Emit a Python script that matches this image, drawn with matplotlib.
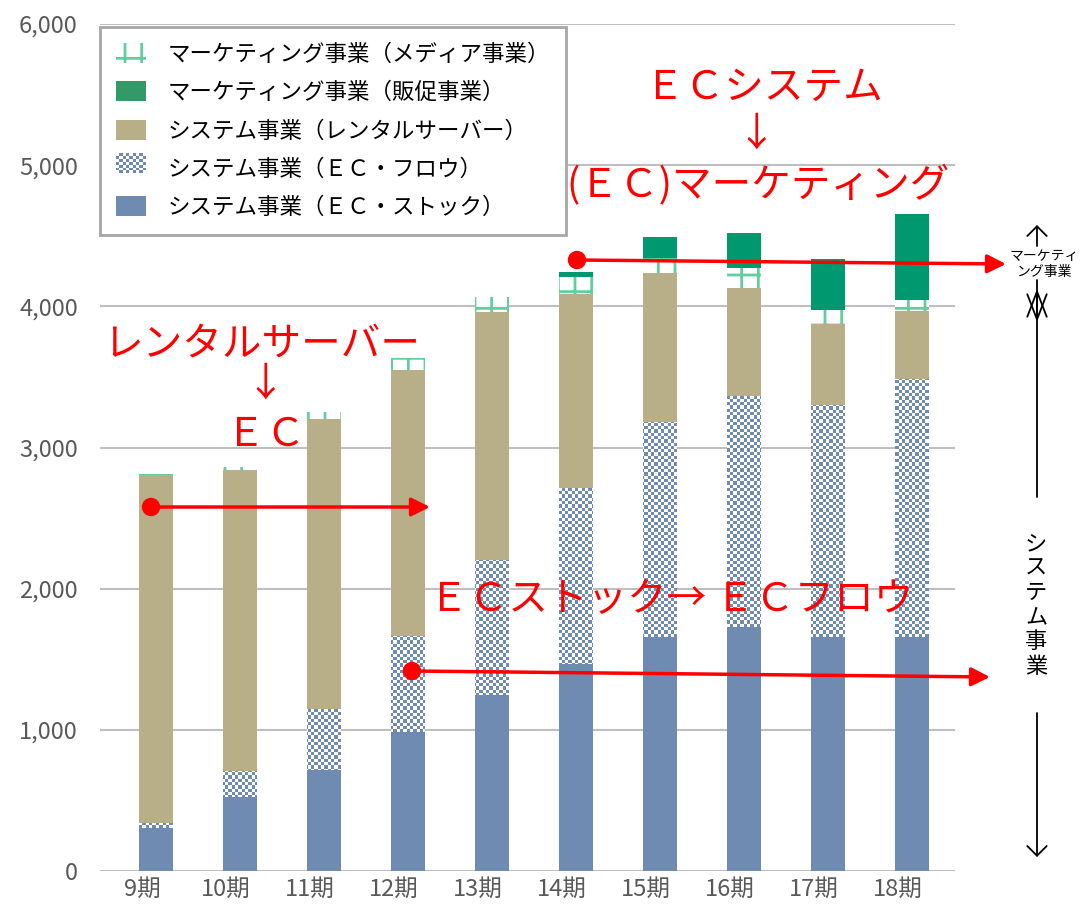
import numpy as np
import matplotlib
matplotlib.use("Agg")
import matplotlib.pyplot as plt
from matplotlib.patches import Patch, Rectangle
from matplotlib.legend_handler import HandlerBase

plt.rcParams['font.family'] = ['Noto Sans CJK JP', 'DejaVu Sans']
plt.rcParams['hatch.linewidth'] = 2.0

periods = ["9期", "10期", "11期", "12期", "13期", "14期", "15期", "16期", "17期", "18期"]
ec_stock = [305, 524, 715, 985, 1247, 1466, 1658, 1728, 1658, 1658]
ec_flow = [35, 184, 433, 680, 956, 1247, 1523, 1637, 1643, 1827]
rental = [2465, 2132, 2054, 1884, 1757, 1374, 1055, 765, 574, 482]
media = [7, 22, 49, 85, 106, 121, 106, 141, 99, 78]
promo = [0, 0, 0, 0, 0, 35, 149, 248, 361, 609]

labels = ["マーケティング事業（メディア事業）", "マーケティング事業（販促事業）",
          "システム事業（レンタルサーバー）", "システム事業（ＥＣ・フロウ）",
          "システム事業（ＥＣ・ストック）"]

c_stock = "#6f8bb1"
c_rental = "#b8ae88"
c_promo = "#00996f"
c_media = "#5fcf9d"

W, H = 1084, 915
fig = plt.figure(figsize=(W / 100, H / 100), dpi=100)
ax = fig.add_axes([100 / W, 1 - 871 / H, 855 / W, 847 / H])

x = np.arange(len(periods))
bw = 0.4
b0 = np.zeros(len(x))
ax.bar(x, ec_stock, bw, bottom=b0, color=c_stock, linewidth=0, zorder=2)
b1 = b0 + ec_stock
flow_bars = ax.bar(x, ec_flow, bw, bottom=b1, color="white", linewidth=0, zorder=2)
b2 = b1 + ec_flow
ax.bar(x, rental, bw, bottom=b2, color=c_rental, linewidth=0, zorder=2)
b3 = b2 + rental
ax.bar(x, media, bw, bottom=b3, facecolor="white", edgecolor=c_media, hatch="+",
       linewidth=0, zorder=2)
b4 = b3 + media
ax.bar(x, promo, bw, bottom=b4, color=c_promo, linewidth=0, zorder=2)

# checker texture for EC flow
ny, nx = 257, 259
checker = (np.add.outer(np.arange(ny), np.arange(nx)) % 2).astype(float)
cmap = matplotlib.colors.ListedColormap(["white", c_stock])
for bar in flow_bars:
    im = ax.imshow(checker, cmap=cmap, extent=(-0.67, 9.51, 0, 6000), aspect="auto",
                   interpolation="nearest", zorder=2.5)
    im.set_clip_path(bar)
ax.set_xlim(-0.67, 9.51)
ax.set_ylim(0, 6000)

ax.set_yticks(range(0, 6001, 1000))
ax.set_yticklabels([f"{v:,}" for v in range(0, 6001, 1000)])
ax.set_xticks(x - 0.17)
ax.set_xticklabels(periods)
ax.tick_params(axis="both", length=0, labelsize=17, labelcolor="#595959")
ax.tick_params(axis="y", pad=16)
ax.tick_params(axis="x", pad=5)
ax.grid(axis="y", color="#bfbfbf", linewidth=1.5, zorder=0)
ax.set_axisbelow(True)
for s in ax.spines.values():
    s.set_visible(False)


class CheckerHandler(HandlerBase):
    def create_artists(self, legend, orig_handle, x0, y0, width, height, fontsize, trans):
        arts = []
        n_i, n_j = 9, 7
        for i in range(n_i):
            for j in range(n_j):
                col = c_stock if (i + j) % 2 else "white"
                arts.append(Rectangle((x0 + i * width / n_i, y0 + j * height / n_j),
                                      width / n_i, height / n_j, facecolor=col,
                                      linewidth=0, transform=trans))
        return arts


h_media = Patch(facecolor="white", edgecolor=c_media, hatch="+", linewidth=0)
h_promo = Patch(facecolor="#339966")
h_rental = Patch(facecolor=c_rental)
h_flow = Patch(facecolor="white")
h_stock = Patch(facecolor=c_stock)
leg = fig.legend([h_media, h_promo, h_rental, h_flow, h_stock], labels,
                 loc="upper left", bbox_to_anchor=(100 / W, 1 - 27 / H),
                 borderaxespad=0, fontsize=16.2, frameon=True, fancybox=False,
                 framealpha=1, edgecolor="#a6a6a6", handlelength=1.35,
                 handleheight=1.0, handletextpad=0.95, labelspacing=0.68,
                 borderpad=0.7, handler_map={h_flow: CheckerHandler()})
leg.get_frame().set_linewidth(2)


def fp(px, py):
    return (px / W, 1 - py / H)


red = "#ff0000"
texts = [
    ("レンタルサーバー", 262, 345),
    ("↓", 265, 385),
    ("ＥＣ", 266, 435),
    ("ＥＣシステム", 764, 88),
    ("↓", 756, 135),
    ("(ＥＣ)マーケティング", 758, 185),
    ("ＥＣストック→ ＥＣフロウ", 671, 600),
]
for t, px, py in texts:
    fig.text(*fp(px, py), t, color=red, fontsize=28.5, ha="center", va="center",
             zorder=6)

red_arrows = [((151, 507), (430, 507)), ((412, 671), (990, 677)), ((577, 260), (1006, 264))]
for (sx, sy), (ex, ey) in red_arrows:
    fig.add_artist(matplotlib.patches.FancyArrowPatch(
        fp(sx, sy), fp(ex, ey), transform=fig.transFigure, arrowstyle="-|>",
        mutation_scale=28, color=red, linewidth=2.5, shrinkA=0, shrinkB=0))
    fig.add_artist(matplotlib.patches.Ellipse(fp(sx, sy), 17 / W, 17 / H,
                                              transform=fig.transFigure, color=red))

small_head = "->, head_length=0.5, head_width=0.5"
long_head = "->, head_length=1.3, head_width=0.5"
black_arrows = [((1037, 246), (1037, 225), small_head),
                ((1037, 280), (1037, 322), long_head),
                ((1037, 497), (1037, 289), long_head),
                ((1037, 713), (1037, 857), small_head)]
for (sx, sy), (ex, ey), st in black_arrows:
    fig.add_artist(matplotlib.patches.FancyArrowPatch(
        fp(sx, sy), fp(ex, ey), transform=fig.transFigure, arrowstyle=st,
        mutation_scale=14, color="black", linewidth=1.3, shrinkA=0, shrinkB=0))

fig.text(*fp(1044, 264), "マーケティ\nング事業", fontsize=10, ha="center", va="center",
         linespacing=1.25)
fig.text(*fp(1036, 605), "シ\nス\nテ\nム\n事\n業", fontsize=16, ha="center", va="center",
         linespacing=1.08)

fig.savefig("out.png", dpi=100)
